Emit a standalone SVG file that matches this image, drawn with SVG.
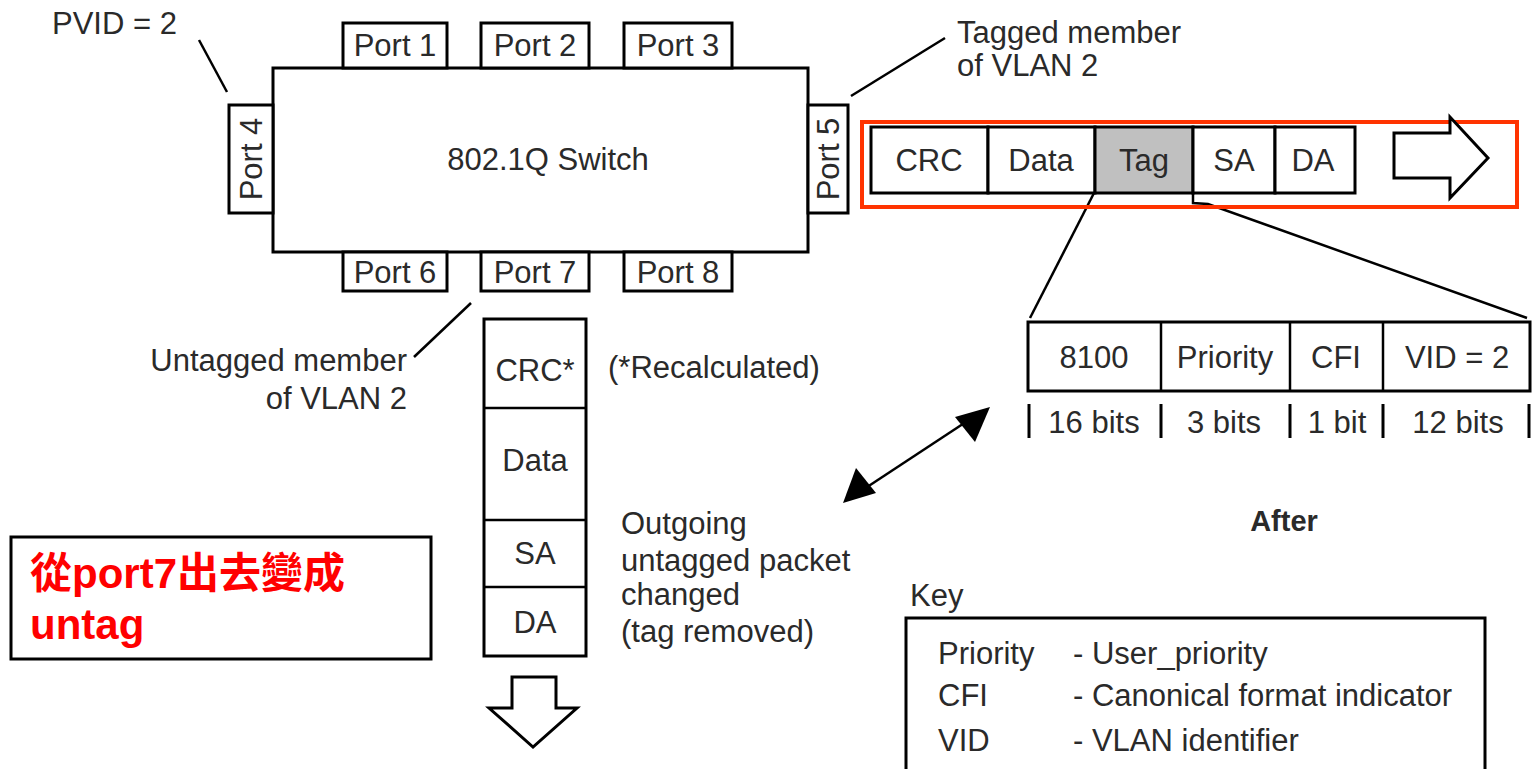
<svg xmlns="http://www.w3.org/2000/svg" width="1535" height="769" viewBox="0 0 1535 769">
<defs>
<style>
.b{fill:#fff;stroke:#000;stroke-width:3}
.t{font-family:"Liberation Sans",Arial,sans-serif;font-size:31px;fill:#2a2a2a}
.m{text-anchor:middle}
.e{text-anchor:end}
.ln{stroke:#000;stroke-width:2.5;fill:none}
</style>
</defs>
<rect width="1535" height="769" fill="#fff"/>

<g id="connectors">
<line class="ln" x1="199" y1="40" x2="227" y2="92"/>
<line class="ln" x1="851" y1="96" x2="945" y2="38"/>
<line class="ln" x1="414" y1="357" x2="471" y2="303"/>
<line class="ln" x1="1094" y1="193" x2="1030" y2="318"/>
<polyline class="ln" points="1193,193 1193,203 1208,204 1527,318"/>
<line x1="855" y1="495" x2="978" y2="414" stroke="#000" stroke-width="2.5"/>
<path d="M843,503 L856,468 L876,493 z" fill="#000"/>
<path d="M990,407 L955,417 L975,442 z" fill="#000"/>
</g>

<g id="switch">
<rect class="b" x="273" y="68" width="535" height="184"/>
<text class="t m" x="548" y="170">802.1Q Switch</text>
</g>
<g id="port1"><rect class="b" x="343" y="23" width="104" height="45"/><text class="t m" x="395" y="56">Port 1</text></g>
<g id="port2"><rect class="b" x="481" y="23" width="108" height="45"/><text class="t m" x="535" y="56">Port 2</text></g>
<g id="port3"><rect class="b" x="624" y="23" width="108" height="45"/><text class="t m" x="678" y="56">Port 3</text></g>
<g id="port6"><rect class="b" x="343" y="252" width="104" height="39"/><text class="t m" x="395" y="283">Port 6</text></g>
<g id="port7"><rect class="b" x="481" y="252" width="108" height="39"/><text class="t m" x="535" y="283">Port 7</text></g>
<g id="port8"><rect class="b" x="624" y="252" width="108" height="39"/><text class="t m" x="678" y="283">Port 8</text></g>
<g id="port4"><rect class="b" x="229" y="105" width="44" height="108"/><text class="t m" transform="translate(262,159) rotate(-90)">Port 4</text></g>
<g id="port5"><rect class="b" x="808" y="105" width="40" height="108"/><text class="t m" transform="translate(839,159) rotate(-90)">Port 5</text></g>

<g id="labels">
<text class="t" x="52" y="34">PVID = 2</text>
<text class="t" x="957" y="43">Tagged member</text>
<text class="t" x="957" y="76">of VLAN 2</text>
<text class="t e" x="407" y="371">Untagged member</text>
<text class="t e" x="407" y="409">of VLAN 2</text>
<text class="t" x="608" y="378">(*Recalculated)</text>
<text class="t" x="621" y="534">Outgoing</text>
<text class="t" x="621" y="571">untagged packet</text>
<text class="t" x="621" y="605">changed</text>
<text class="t" x="621" y="642">(tag removed)</text>
<text class="t m" x="1284" y="531" font-weight="bold" style="font-size:29px">After</text>
</g>

<g id="tagged-frame">
<rect x="862" y="122" width="655" height="85" fill="none" stroke="#FF3300" stroke-width="4"/>
<rect class="b" x="871" y="127" width="117" height="66"/>
<text class="t m" x="929" y="171">CRC</text>
<rect class="b" x="988" y="127" width="107" height="66"/>
<text class="t m" x="1041" y="171">Data</text>
<rect x="1095" y="127" width="98" height="66" fill="#c0c0c0" stroke="#000" stroke-width="3"/>
<text class="t m" x="1144" y="171">Tag</text>
<rect class="b" x="1193" y="127" width="82" height="66"/>
<text class="t m" x="1234" y="171">SA</text>
<rect class="b" x="1275" y="127" width="80" height="66"/>
<text class="t m" x="1313" y="171">DA</text>
<path class="b" d="M1394,133 L1450,133 L1450,117 L1488,158 L1450,198 L1450,178 L1394,178 z" stroke-width="2.5"/>
</g>

<g id="tag-detail">
<rect class="b" x="1028" y="322" width="502" height="69"/>
<line class="ln" x1="1161" y1="322" x2="1161" y2="391" stroke-width="3"/>
<line class="ln" x1="1290" y1="322" x2="1290" y2="391" stroke-width="3"/>
<line class="ln" x1="1383" y1="322" x2="1383" y2="391" stroke-width="3"/>
<text class="t m" x="1094" y="368">8100</text>
<text class="t m" x="1225" y="368">Priority</text>
<text class="t m" x="1336" y="368">CFI</text>
<text class="t m" x="1457" y="368">VID = 2</text>
<g stroke="#000" stroke-width="3">
<line x1="1029" y1="404" x2="1029" y2="438"/>
<line x1="1161" y1="404" x2="1161" y2="438"/>
<line x1="1290" y1="404" x2="1290" y2="438"/>
<line x1="1383" y1="404" x2="1383" y2="438"/>
<line x1="1529" y1="404" x2="1529" y2="438"/>
</g>
<text class="t m" x="1094" y="433">16 bits</text>
<text class="t m" x="1224" y="433">3 bits</text>
<text class="t m" x="1337" y="433">1 bit</text>
<text class="t m" x="1458" y="433">12 bits</text>
</g>

<g id="untagged-frame">
<rect class="b" x="484" y="319" width="102" height="337"/>
<line class="ln" x1="484" y1="408" x2="586" y2="408" stroke-width="3"/>
<line class="ln" x1="484" y1="520" x2="586" y2="520" stroke-width="3"/>
<line class="ln" x1="484" y1="587" x2="586" y2="587" stroke-width="3"/>
<text class="t m" x="535" y="381">CRC*</text>
<text class="t m" x="535" y="471">Data</text>
<text class="t m" x="535" y="564">SA</text>
<text class="t m" x="535" y="633">DA</text>
<path class="b" d="M512,677 L556,677 L556,708 L577,708 L533,747 L489,708 L512,708 z" stroke-width="2.5"/>
</g>

<g id="note">
<rect class="b" x="11" y="537" width="420" height="122"/>
<text x="30" y="588" font-family="'Liberation Sans','Noto Sans CJK TC',sans-serif" font-weight="bold" font-size="42" fill="#ff0000">從port7出去變成</text>
<text x="30" y="639" font-family="'Liberation Sans','Noto Sans CJK TC',sans-serif" font-weight="bold" font-size="42" fill="#ff0000">untag</text>
</g>

<g id="key">
<text class="t" x="910" y="606">Key</text>
<rect class="b" x="906" y="618" width="579" height="170"/>
<text class="t" x="938" y="664">Priority</text>
<text class="t" x="1073" y="664">- User_priority</text>
<text class="t" x="938" y="706">CFI</text>
<text class="t" x="1073" y="706">- Canonical format indicator</text>
<text class="t" x="938" y="751">VID</text>
<text class="t" x="1073" y="751">- VLAN identifier</text>
</g>
</svg>
